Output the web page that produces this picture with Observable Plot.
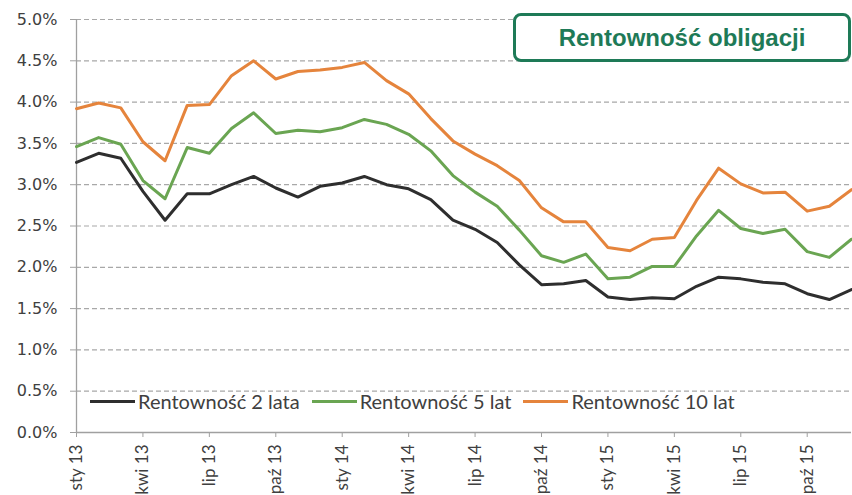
<!DOCTYPE html>
<html>
<head>
<meta charset="utf-8">
<script src="https://cdn.jsdelivr.net/npm/d3@7"></script>
<script src="https://cdn.jsdelivr.net/npm/@observablehq/plot@0.6"></script>
<style>
  html, body { margin: 0; padding: 0; background: #fff; }
  #wrap { position: relative; width: 852px; height: 495px; overflow: hidden; }
  #title {
    position: absolute; left: 513px; top: 13px; width: 332px; height: 43px;
    border: 3px solid #1e7a57; border-radius: 8px; background: #fff;
    font-family: "Liberation Sans Narrow", "Liberation Sans", Arial, sans-serif;
    font-weight: bold; font-size: 24px; color: #1e7a57;
    display: flex; align-items: center; justify-content: center;
  }
  #legend {
    position: absolute; left: 90px; top: 389px; height: 24px;
    display: flex; align-items: center;
    font-family: Lato, "Open Sans", sans-serif; font-size: 20px; color: #404040;
  }
  .sw { display: inline-block; width: 45px; height: 3px; margin-right: 3px; }
  .item { display: flex; align-items: center; margin-right: 12px; }
</style>
</head>
<body>
<div id="wrap">
  <div id="chart"></div>
  <div id="title">Rentowność obligacji</div>
  <div id="legend"></div>
</div>
<script>
// Month labels (Jan 2013 – Dec 2015)
const months = [
  "sty 13","lut 13","mar 13","kwi 13","maj 13","cze 13","lip 13","sie 13","wrz 13","paź 13","lis 13","gru 13",
  "sty 14","lut 14","mar 14","kwi 14","maj 14","cze 14","lip 14","sie 14","wrz 14","paź 14","lis 14","gru 14",
  "sty 15","lut 15","mar 15","kwi 15","maj 15","cze 15","lip 15","sie 15","wrz 15","paź 15","lis 15","gru 15"
];
const seriesNames = ["Rentowność 2 lata", "Rentowność 5 lat", "Rentowność 10 lat"];
const seriesColors = ["#2e2e2e", "#6aa552", "#e5843c"];

const yield2 = [3.27,3.38,3.32,2.92,2.57,2.89,2.89,3.00,3.10,2.96,2.85,2.98,
                3.02,3.10,3.00,2.95,2.82,2.57,2.46,2.30,2.03,1.79,1.80,1.84,
                1.64,1.61,1.63,1.62,1.77,1.88,1.86,1.82,1.80,1.68,1.61,1.73];
const yield5 = [3.46,3.57,3.49,3.05,2.83,3.45,3.38,3.68,3.87,3.62,3.66,3.64,
                3.69,3.79,3.73,3.61,3.41,3.11,2.91,2.74,2.45,2.14,2.06,2.16,
                1.86,1.88,2.01,2.01,2.38,2.69,2.47,2.41,2.46,2.19,2.12,2.34];
const yield10 = [3.92,3.99,3.93,3.52,3.29,3.96,3.97,4.32,4.50,4.28,4.37,4.39,
                 4.42,4.48,4.26,4.10,3.80,3.53,3.37,3.23,3.05,2.72,2.55,2.55,
                 2.24,2.20,2.34,2.36,2.81,3.20,3.01,2.90,2.91,2.68,2.74,2.94];

const yTicks = [0,0.5,1,1.5,2,2.5,3,3.5,4,4.5,5];
const xTicks = [0,3,6,9,12,15,18,21,24,27,30,33];

const allSeries = [yield2, yield5, yield10];
const data = [];
allSeries.forEach((vals, s) => vals.forEach((v, i) => data.push({i, v, s: seriesNames[s]})));

const chart = Plot.plot({
  width: 852, height: 495,
  marginLeft: 76, marginRight: 1, marginTop: 19, marginBottom: 63,
  style: { fontFamily: "Lato, sans-serif", color: "#404040", background: "#fff" },
  x: { domain: [0, 35] },
  y: { domain: [0, 5] },
  color: { domain: seriesNames, range: seriesColors },
  marks: [
    Plot.ruleY(yTicks.filter(d => d > 0), { stroke: "#a8a8a8", strokeWidth: 1.2, strokeDasharray: "5,3" }),
    Plot.axisY({ ticks: yTicks, tickFormat: d => d.toFixed(1) + "%", tickSize: 6, tickPadding: 13,
      fontSize: 16, fontFamily: "DejaVu Sans, sans-serif", stroke: "#a0a0a0", fill: "#404040", label: null }),
    Plot.axisX({ ticks: xTicks, tickFormat: i => months[i], tickRotate: -90, tickSize: 5, tickPadding: 7,
      fontSize: 17, fontFamily: "Lato, sans-serif", stroke: "#a0a0a0", fill: "#404040", label: null }),
    Plot.ruleX([0], { stroke: "#a0a0a0", strokeWidth: 1.3 }),
    Plot.ruleY([0], { stroke: "#a0a0a0", strokeWidth: 1.3 }),
    Plot.line(data, { x: "i", y: "v", z: "s", stroke: "s", strokeWidth: 3, strokeLinejoin: "round" })
  ]
});
document.getElementById("chart").appendChild(chart);

const legend = document.getElementById("legend");
seriesNames.forEach((name, k) => {
  const item = document.createElement("span");
  item.className = "item";
  const sw = document.createElement("span");
  sw.className = "sw";
  sw.style.background = seriesColors[k];
  item.appendChild(sw);
  item.appendChild(document.createTextNode(name));
  legend.appendChild(item);
});
</script>
</body>
</html>
